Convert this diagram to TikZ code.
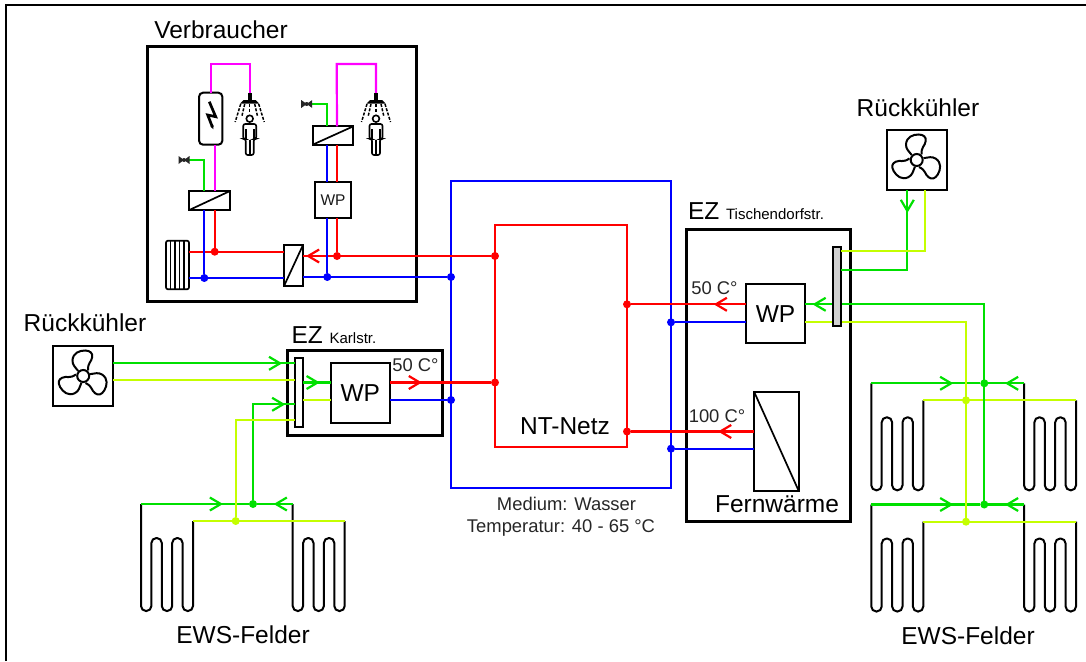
\documentclass[tikz,border=0pt]{standalone}
\usepackage{fontspec}
\setmainfont{Liberation Sans}
\usepackage{xcolor}
\usetikzlibrary{arrows.meta,decorations.markings}

\definecolor{ggreen}{RGB}{0,224,0}
\definecolor{glime}{RGB}{196,255,0}
\definecolor{gmag}{RGB}{255,0,255}

\tikzset{
    every node/.style={outer sep=0pt, inner sep=0pt},
    txtgross/.style={font=\fontsize{24.5}{28}\selectfont, anchor=base},
    txtmittel/.style={font=\fontsize{18.4}{22}\selectfont, anchor=base, text=black!85},
    pipe/.style={line width=2.2pt},
    pred/.style={pipe, draw=red},
    pblue/.style={pipe, draw=blue},
    pgreen/.style={pipe, draw=ggreen},
    plime/.style={pipe, draw=glime},
    pmag/.style={pipe, draw=gmag},
    pfeil/.style={postaction={decorate,decoration={markings,mark=at position #1 with {\arrow{Straight Barb[length=11pt,width=13pt]}}}}},
    ezbox/.style={draw, rectangle, line width=3pt},
    hxbox/.style={draw, rectangle, line width=2pt},
    dotr/.style={circle, fill=red, minimum size=8pt},
    dotb/.style={circle, fill=blue, minimum size=8pt},
    dotg/.style={circle, fill=ggreen, minimum size=8pt},
    dotl/.style={circle, fill=glime, minimum size=8pt},
    ewsfeld/.pic={
        \draw[line width=2pt, rounded corners=5pt] (0,0) -- (0,107) -- (10.4,107) -- (10.4,34) -- (20.8,34) -- (20.8,107)
            -- (31.2,107) -- (31.2,34) -- (41.6,34) -- (41.6,107) -- (52,107) -- (52,17);
    },
    luefter/.pic={
        \foreach \w in {0,120,240} {
            \draw[line width=2pt, rotate=\w] (-5,-5) .. controls (-8,-9) and (-11,-11) .. (-10.7,-16)
                .. controls (-10,-23) and (-4,-25.5) .. (2,-25.5)
                .. controls (7,-25.3) and (9.5,-23) .. (9,-19)
                .. controls (8.5,-14) and (4,-13) .. (5,-5.5);
        }
        \draw[line width=2pt, fill=white] (0,0) circle (6pt);
    },
    ventil/.pic={
        \fill[black!85] (-5.5,-4) -- (5.5,4) -- (5.5,-4) -- (-5.5,4) -- cycle;
        \fill[black!85] (0,0) circle (2pt);
    },
    dusche/.pic={
        \fill (-2,0) rectangle (2,8);
        \fill (-9.5,10.5) -- (-6,7) -- (6,7) -- (9.5,10.5) -- cycle;
        \draw[line width=1.5pt, dash pattern=on 3pt off 1.5pt] (-9,11) -- (-14.5,29);
        \draw[line width=1.5pt, dash pattern=on 3pt off 1.5pt] (-5,11) -- (-8,24);
        \draw[line width=1.5pt, dash pattern=on 3pt off 1.5pt] (0,11) -- (0,20);
        \draw[line width=1.5pt, dash pattern=on 3pt off 1.5pt] (5,11) -- (8,24);
        \draw[line width=1.5pt, dash pattern=on 3pt off 1.5pt] (9,11) -- (14.5,29);
        \draw[line width=1.6pt, fill=white, rounded corners=2pt] (-6.5,46) -- (-6.5,31) -- (6.5,31) -- (6.5,46) -- (4,46)
            -- (4,62) -- (-4,62) -- (-4,46) -- cycle;
        \draw[line width=1.6pt] (0,47) -- (0,62);
        \draw[line width=1.6pt] (-4,36) -- (-4,46);
        \draw[line width=1.6pt] (4,36) -- (4,46);
        \draw[line width=1.6pt, fill=white] (0,25.7) circle (3.4pt);
    }
}

\begin{document}
\begin{tikzpicture}[x=1pt, y=-1pt]
    \useasboundingbox (0,0) rectangle (1086,661);
    \draw[line width=2.5pt] (6,661) -- (6,5) -- (1086,5);

    \node[draw=blue, line width=2.2pt, minimum width=220pt, minimum height=307pt] (blaunetz) at (561,334.5) {};
    \node[draw=red, line width=2.2pt, minimum width=132pt, minimum height=222pt] (rotnetz) at (561,336) {};
    \node[dotr] (jr1) at (495,256) {};
    \node[dotr] (jr2) at (495,382.5) {};
    \node[dotr] (jr3) at (627,304.3) {};
    \node[dotr] (jr4) at (627,431.5) {};
    \node[dotb] (jb1) at (451,277) {};
    \node[dotb] (jb2) at (451,400) {};
    \node[dotb] (jb3) at (671,322.3) {};
    \node[dotb] (jb4) at (671,448.7) {};

    \node[ezbox, minimum width=269pt, minimum height=255pt] (verbr) at (281.5,174) {};
    \node[hxbox, minimum width=40.7pt, minimum height=19pt] (hx1) at (209.7,200.5) {};
    \node[hxbox, minimum width=19pt, minimum height=41pt] (hx2) at (293.5,265.5) {};
    \node[hxbox, minimum width=40.7pt, minimum height=18.4pt] (hx3) at (333,135.5) {};
    \node[hxbox, minimum width=36.3pt, minimum height=36.3pt, font=\fontsize{15.5}{18}\selectfont, text=black!90] (wpv) at (333,200.2) {WP};
    \node[draw, rectangle, line width=2pt, rounded corners=4pt, minimum width=23.3pt, minimum height=52pt] (tank) at (210.7,118.7) {};
    \node[draw, rectangle, line width=1.7pt, rounded corners=2pt, minimum width=23pt, minimum height=48.6pt] (hk) at (177.5,265) {};
    \coordinate (du1) at (249.7,93);
    \coordinate (du2) at (376,93);
    \coordinate (v1) at (184,160);
    \coordinate (v2) at (306.7,104);
    \coordinate (m1) at (210.7,64);
    \coordinate (m2) at (336.7,64);
    \node[dotr] (jv1) at (337,256) {};
    \node[dotb] (jv2) at (327.3,277) {};
    \node[dotr] (jv3) at (214.7,251.7) {};
    \node[dotb] (jv4) at (204.3,278) {};

    \draw[line width=1.7pt] (hx1.south west) -- (hx1.north east);
    \draw[line width=1.7pt] (hx2.south west) -- (hx2.north east);
    \draw[line width=1.7pt] (hx3.south west) -- (hx3.north east);
    \foreach \x in {170.5,175,179.5,184} {
        \draw[line width=1.7pt] (\x,240.7) -- (\x,289.3);
    }
    \draw[line width=2.7pt, -{Stealth[length=4pt]}] (209.3,101.7) -- (215.7,116.7) -- (207.7,115) -- (213.3,129.3);

    \draw[pred, pfeil=185pt] (jr1) -- (hx2.east |- jr1);
    \draw[pblue] (jb1) -- (hx2.east |- jb1);
    \draw[pred] (hk.east |- jv3) -- (hx2.west |- jv3);
    \draw[pblue] (hk.east |- jv4) -- (hx2.west |- jv4);
    \draw[pred] (hx1.south -| jv3) -- (jv3);
    \draw[pblue] (hx1.south -| jv4) -- (jv4);
    \draw[pmag] (hx1.north -| jv3) -- (tank.south -| jv3);
    \draw[pgreen] (hx1.north -| jv4) |- (v1);
    \draw[pmag] (tank.north) -- (m1) -| (du1);
    \draw[pred] (wpv.south -| jv1) -- (jv1);
    \draw[pblue] (wpv.south -| jv2) -- (jv2);
    \draw[pred] (hx3.south -| jv1) -- (wpv.north -| jv1);
    \draw[pblue] (hx3.south -| jv2) -- (wpv.north -| jv2);
    \draw[pgreen] (hx3.north -| jv2) |- (v2);
    \draw[pmag] (hx3.north -| jv1) -- (m2) -| (du2);
    \pic at (v1) {ventil};
    \pic at (v2) {ventil};
    \pic at (du1) {dusche};
    \pic at (du2) {dusche};

    \foreach \n/\a/\b/\gx/\yx/\g/\y in {li/141/292.7/253/235.7/504/521, ro/871.3/1024/984.3/966/383.3/400.3, ru/871.3/1024/984.3/966/504.5/521.7} {
        \pic at (\a,\g) {ewsfeld};
        \pic at (\b,\g) {ewsfeld};
        \node[dotg] (g\n) at (\gx,\g) {};
        \node[dotl] (l\n) at (\yx,\y) {};
        \coordinate (ga\n) at (\a,\g);
        \coordinate (gb\n) at (\b,\g);
        \coordinate (la\n) at (\a+52,\y);
        \coordinate (lb\n) at (\b+52,\y);
        \draw[pgreen, pfeil=82pt] (ga\n) -- (g\n);
        \draw[pgreen, pfeil=19pt] (gb\n) -- (g\n);
        \draw[plime] (la\n) -- (lb\n);
    }

    \node[ezbox, minimum width=155pt, minimum height=85pt] (ezk) at (365.2,392.5) {};
    \node[hxbox, minimum width=7.7pt, minimum height=68.7pt] (stripk) at (298.9,392.3) {};
    \node[hxbox, minimum width=59.3pt, minimum height=59.4pt, font=\fontsize{24.5}{28}\selectfont] (wpk) at (360.3,393) {WP};
    \node[hxbox, minimum width=60pt, minimum height=60pt] (rkl) at (83.2,376) {};
    \pic at (rkl.center) {luefter};
    \coordinate (kg1) at (295,363.3);
    \coordinate (kl1) at (295,380);
    \coordinate (kg2) at (295,404.3);
    \coordinate (kl2) at (295,420);

    \draw[pgreen, pfeil=169pt] (rkl.east |- kg1) -- (kg1);
    \draw[plime] (rkl.east |- kl1) -- (kl1);
    \draw[pgreen, pfeil=128pt] (gli) |- (kg2);
    \draw[plime] (lli) |- (kl2);
    \draw[pgreen, pfeil=17pt] (stripk.east |- jr2) -- (wpk.west |- jr2);
    \draw[plime] (stripk.east |- jb2) -- (wpk.west |- jb2);
    \draw[pred, pfeil=32pt] (wpk.east |- jr2) -- (jr2);
    \draw[pblue] (wpk.east |- jb2) -- (jb2);

    \node[ezbox, minimum width=163.3pt, minimum height=291.7pt] (ezt) at (768.4,375.2) {};
    \node[hxbox, minimum width=59.6pt, minimum height=59.3pt, font=\fontsize{24.5}{28}\selectfont] (wpt) at (775.5,313.7) {WP};
    \node[hxbox, minimum width=44.7pt, minimum height=99.3pt] (fern) at (776.4,441.3) {};
    \node[hxbox, minimum width=60pt, minimum height=60pt] (rkr) at (916.7,160) {};
    \pic at (rkr.center) {luefter};
    \coordinate (rgt) at (907.3,190);
    \coordinate (rlt) at (925.3,190);
    \coordinate (rg1) at (907.3,270.3);
    \coordinate (rl1) at (925.3,251);

    \draw[line width=1.7pt] (fern.north west) -- (fern.south east);
    \draw[pred, pfeil=32pt] (wpt.west |- jr3) -- (jr3);
    \draw[pblue] (wpt.west |- jb3) -- (jb3);
    \draw[pred, pfeil=36pt] (fern.west |- jr4) -- (jr4);
    \draw[pblue] (fern.west |- jb4) -- (jb4);
    \draw[pgreen, pfeil=368pt] (gru) |- (wpt.east |- jr3);
    \draw[plime] (lru) |- (wpt.east |- jb3);
    \node[hxbox, fill=black!18, minimum width=8.3pt, minimum height=79.3pt] (stript) at (837.2,286.3) {};
    \draw[pgreen, pfeil=23pt] (rgt) -- (rg1) -- (stript.east |- rg1);
    \draw[plime] (rlt) -- (rl1) -- (stript.east |- rl1);

    \node[txtgross] (lblverbr) at (221,38) {Verbraucher};
    \node[txtgross] (lblrkl) at (85,331.7) {Rückkühler};
    \node[txtgross] (lblrkr) at (918,116.7) {Rückkühler};
    \node[txtgross, anchor=base west] (lbl_ezk) at (291.5,343.3) {EZ {\fontsize{15}{18}\selectfont Karlstr.}};
    \node[txtgross, anchor=base west] (lbl_ezt) at (688,219.3) {EZ {\fontsize{15}{18}\selectfont Tischendorfstr.}};
    \node[txtmittel] (lbl50k) at (415.5,371) {50 C°};
    \node[txtmittel] (lbl50t) at (714.5,294) {50 C°};
    \node[txtmittel] (lbl100) at (717,422.3) {100 C°};
    \node[txtgross] (lblnt) at (565,434) {NT-Netz};
    \node[txtgross] (lblfern) at (777,512.7) {Fernwärme};
    \node[txtmittel] (lblmed) at (566.5,510) {Medium: Wasser};
    \node[txtmittel] (lbltemp) at (561,532.5) {Temperatur: 40 - 65 °C};
    \node[txtgross] (lblewsl) at (243,643.3) {EWS-Felder};
    \node[txtgross] (lblewsr) at (968,644) {EWS-Felder};
\end{tikzpicture}
\end{document}
